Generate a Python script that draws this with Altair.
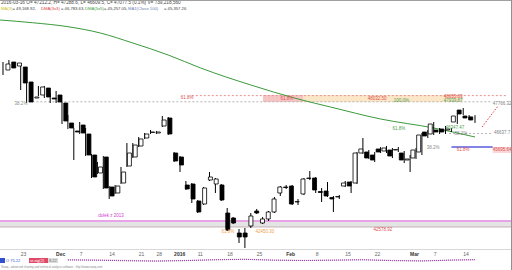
import altair as alt
import pandas as pd

# ---------------- data (WIG daily candles, trading-day index 0 = 2015-11-18) -------------
day_index = list(range(81))
open_ = [49257, 49606, 49431, 49388, 48734, 48036, 48167, 48472, 48036, 48167,
         47818, 46946, 46597, 46859, 46467, 45551, 44766, 45464, 44156, 43894,
         44330, 45071, 45464, 45943, 46292, 46532, 46510, 46815, 47164, 45638,
         45464, 44243, 44287, 43545, 43415, 44461, 44287, 44243, 43022, 42804,
         42150, 42150, 42455, 43109, 42586, 42761, 43066, 43894, 44156, 44199,
         43502, 43851, 44526, 44548, 43960, 43981, 43698, 43720, 44199, 44374,
         44330, 45638, 45682, 45551, 45813, 45725, 45769, 45769, 45638, 45333,
         45420, 45682, 46554, 46467, 46641, 46685, 46641, 46990, 47513, 47251,
         47212]
high = [49606, 49693, 49606, 49431, 48821, 48254, 48559, 48559, 48254, 48341,
        47862, 47295, 46728, 46990, 46728, 45595, 45246, 45507, 44199, 44243,
        45028, 46074, 46074, 46336, 46510, 46641, 46597, 47251, 47208, 45682,
        45507, 44417, 44330, 43589, 44156, 44810, 44548, 44287, 43240, 42848,
        42325, 42368, 43022, 43197, 42848, 43109, 43720, 44199, 44243, 44243,
        43633, 44548, 44853, 44592, 44112, 44374, 43763, 43807, 44417, 44417,
        45682, 46292, 45769, 45682, 45900, 45943, 45856, 45900, 45725, 45551,
        45856, 46510, 46641, 46990, 46728, 46815, 46728, 47339, 47600, 47295,
        47288]
low = [49039, 49301, 49388, 48385, 47818, 47862, 48123, 48036, 47818, 47818,
       46903, 46685, 45333, 46467, 45507, 44548, 44723, 44069, 43633, 43851,
       44287, 45028, 45420, 45900, 46249, 46467, 46467, 46772, 46423, 45246,
       44810, 44025, 43458, 43022, 43371, 44417, 43894, 43545, 42237, 42543,
       41714, 41496, 42368, 42979, 42543, 42673, 43022, 43763, 44069, 43371,
       43371, 43807, 44461, 43894, 43502, 43720, 43066, 43633, 44156, 43894,
       44287, 45595, 45377, 45246, 45638, 45638, 45420, 45682, 45202, 44810,
       45377, 45551, 46292, 46423, 46467, 46467, 46554, 46903, 47295, 47121,
       46950]
close = [49519, 49344, 49562, 48690, 47862, 48080, 48516, 48080, 47993, 47862,
         47033, 46728, 46554, 46510, 45551, 44592, 45028, 44112, 43763, 44199,
         44810, 45638, 45987, 46249, 46467, 46554, 46554, 47077, 46467, 45289,
         45115, 44069, 43633, 43066, 44112, 44592, 44505, 43589, 42281, 42586,
         41976, 41976, 42891, 43022, 42761, 43066, 43633, 44156, 44134, 43415,
         43524, 44505, 44548, 44025, 43916, 43763, 43633, 43741, 44330, 44199,
         45638, 45813, 45420, 45333, 45682, 45856, 45507, 45791, 45333, 45377,
         45769, 46423, 46379, 46903, 46554, 46554, 46685, 47251, 47339, 47164,
         47077]

# 100-session moving average (green), read at several points
ma_index = [-0.5, 5, 11, 16.5, 22, 28, 33.5, 42, 50, 55.5, 64, 73, 80]
ma_value = [51437, 51319, 51145, 50870, 50434, 49911, 49344, 48603, 47993, 47644, 47121, 46728, 46336]

# date axis
tick_index = [3, 9, 13, 18, 23, 26, 29, 33, 38, 43, 48, 53, 58, 63, 69, 73, 78]
tick_label = ["23", "Dec", "7", "14", "21", "28", "2016", "11", "18", "25", "Feb", "8", "15", "22", "Mar", "7", "14"]
tick_bold = [False, True, False, False, False, False, True, False, False, False, True, False, False, False, True, False, False]

# Fibonacci / user annotations
band_i1 = [44.07, 50.85, -0.6, 83.0]
band_i2 = [50.85, 77.97, 86.3, 86.3]
band_p1 = [47862, 47862, 42412, 45638]
band_p2 = [48167, 48167, 42630, 45900]
band_col = ["#f7c4c4", "#fbe6c8", "#e4e4e4", "#fad6d6"]

dash_i1 = [4.3, 32.0, 75.6]
dash_i2 = [83.0, 85.5, 83.0]
dash_p = [47870, 48140, 46490]
dash_col = ["#b4b4b4", "#e49090", "#b4b4b4"]

solid_i1 = [-0.6, -0.6, 76.0]
solid_i2 = [86.3, 86.3, 83.0]
solid_p = [42673, 42412, 45900]
solid_col = ["#d448d4", "#b8a4a4", "#5a5ae0"]
solid_w = [1.2, 0.8, 1.4]

arrow_i = [83.9, 81.2]
arrow_p = [47688, 46772]

ann_text = ["38.2%", "61.8%", "61.8%", "48032.50", "100.0%", "48655.83", "47939.87", "47766.32",
            "61.8%", "46347.47", "38.2%", "46637.7", "38.2%", "61.8%", "45695.64",
            "dołek z 2013", "42578.92", "61.8%", "42450.30"]
ann_i = [3.05, 31.2, 48.1, 63.4, 67.5, 76.3, 76.3, 84.6,
         67.1, 76.6, 77.6, 84.6, 72.9, 78.0, 84.6,
         18.3, 64.4, 38.1, 44.4]
ann_p = [47775, 48036, 47993, 47993, 47927, 48101, 47884, 47775,
         46685, 46728, 46467, 46510, 45856, 45769, 45769,
         42891, 42281, 42194, 42194]
ann_col = ["#7f907f", "#e05050", "#e05050", "#e05050", "#4fa04f", "#e05050", "#4fa04f", "#808080",
           "#4fa04f", "#4fa04f", "#8a8a8a", "#808080", "#8a8a8a", "#e05050", "#e05050",
           "#d040d0", "#e05050", "#f0a050", "#f0a050"]

# oscillator panel
osc_index = [11, 16, 21, 26, 31, 36, 41, 46, 51, 56, 61, 66, 71, 76, 80]
osc_a = [55, 50, 45, 40, 45, 55, 60, 50, 45, 50, 55, 45, 40, 50, 55]
osc_b = [50, 47, 40, 35, 42, 52, 58, 47, 43, 47, 52, 42, 37, 48, 53]

# header
head1 = "2016-03-16 O= 47212.2, H= 47288.6, L= 46609.5, C= 47077.5 (0.1%) V= 739,218,560"
head2_x = [1, 12.5, 41, 61, 85, 104, 128, 164]
head2_t = ["MA(3)", "= 49,168.92,", "DMA(3x3)", "= 46,783.63,", "DMA(5x5)", "= 45,257.05,",
           "MA1(Close 100)", "= 45,357.26"]
head2_c = ["#c8c020", "#404040", "#e04040", "#404040", "#40a040", "#404040", "#6a82b8", "#404040"]
footer = "Stooq - advanced charting and technical analysis software - http://www.stooq.com"

# ---------------- build ----------------
FONT = "Liberation Sans"
XS = alt.Scale(domain=[-0.508, 86.27], nice=False, zero=False)
YS = alt.Scale(domain=[40537, 52309], nice=False, zero=False)


def xq(f):
    return alt.X(f, type="quantitative", scale=XS, axis=None)


def yq(f):
    return alt.Y(f, type="quantitative", scale=YS, axis=None)


candles = pd.DataFrame({"i": day_index, "o": open_, "h": high, "l": low, "c": close})
bands = pd.DataFrame({"i1": band_i1, "i2": band_i2, "p1": band_p1, "p2": band_p2, "col": band_col})
dashes = pd.DataFrame({"i1": dash_i1, "i2": dash_i2, "p": dash_p, "col": dash_col})
solids = pd.DataFrame({"i1": solid_i1, "i2": solid_i2, "p": solid_p, "col": solid_col, "w": solid_w})
ma = pd.DataFrame({"i": ma_index, "v": ma_value})
arrow = pd.DataFrame({"i": arrow_i, "p": arrow_p})
ann = pd.DataFrame({"t": ann_text, "i": ann_i, "p": ann_p, "col": ann_col})
ticks = pd.DataFrame({"i": tick_index, "t": tick_label, "b": tick_bold})
osc = pd.DataFrame({"i": osc_index * 2, "v": osc_a + osc_b,
                    "s": ["a"] * len(osc_index) + ["b"] * len(osc_index)})
head2 = pd.DataFrame({"x": head2_x, "t": head2_t, "col": head2_c})
one = pd.DataFrame({"k": [0]})

layers = []
layers.append(alt.Chart(bands).mark_rect().encode(
    x=xq("i1"), x2=alt.X2("i2"), y=yq("p1"), y2=alt.Y2("p2"), color=alt.Color("col:N", scale=None)))
layers.append(alt.Chart(dashes).mark_rule(strokeDash=[2, 2], strokeWidth=1).encode(
    x=xq("i1"), x2=alt.X2("i2"), y=yq("p"), color=alt.Color("col:N", scale=None)))
layers.append(alt.Chart(solids).mark_rule().encode(
    x=xq("i1"), x2=alt.X2("i2"), y=yq("p"), color=alt.Color("col:N", scale=None),
    strokeWidth=alt.StrokeWidth("w:Q", scale=None)))
layers.append(alt.Chart(arrow).mark_line(color="#e04040", strokeDash=[1.5, 1.5], strokeWidth=1).encode(
    x=xq("i"), y=yq("p")))
layers.append(alt.Chart(ma).mark_line(color="#3a9a3a", strokeWidth=1, interpolate="monotone").encode(
    x=xq("i"), y=yq("v")))
layers.append(alt.Chart(candles).mark_rule(color="#000000", strokeWidth=1).encode(
    x=xq("i"), y=yq("l"), y2=alt.Y2("h")))
layers.append(alt.Chart(candles).mark_bar(size=4, stroke="#000000", strokeWidth=0.8).encode(
    x=xq("i"), y=yq("o"), y2=alt.Y2("c"),
    fill=alt.condition("datum.c > datum.o", alt.value("#ffffff"), alt.value("#000000"))))
layers.append(alt.Chart(ann).mark_text(font=FONT, fontSize=4.5, baseline="middle").encode(
    x=xq("i"), y=yq("p"), text="t:N", color=alt.Color("col:N", scale=None)))

# date axis
layers.append(alt.Chart(one).mark_rule(color="#d8d8d8").encode(
    x=alt.value(0), x2=alt.value(512), y=alt.value(249.5)))
layers.append(alt.Chart(ticks).transform_filter("!datum.b").mark_text(
    font=FONT, fontSize=5, align="left", baseline="middle", color="#666666").encode(
    x=xq("i"), y=alt.value(254), text="t:N"))
layers.append(alt.Chart(ticks).transform_filter("datum.b").mark_text(
    font=FONT, fontSize=5, fontWeight="bold", align="left", baseline="middle", color="#333333").encode(
    x=xq("i"), y=alt.value(254), text="t:N"))

# oscillator panel
OS = alt.Scale(domain=[0, 100], range=[264, 256])
layers.append(alt.Chart(osc).mark_line(strokeWidth=1, strokeDash=[1, 1]).encode(
    x=xq("i"), y=alt.Y("v:Q", scale=OS, axis=None),
    color=alt.Color("s:N", scale=alt.Scale(domain=["a", "b"], range=["#e070c0", "#7a3a9a"]), legend=None)))
legend_df = pd.DataFrame({"x1": [0, 29, 48], "x2": [5, 48, 58], "col": ["#3050d0", "#e04868", "#dddddd"]})
layers.append(alt.Chart(legend_df).mark_rect().encode(
    x=alt.X("x1:Q", scale=None), x2=alt.X2("x2"), y=alt.value(258), y2=alt.value(263),
    color=alt.Color("col:N", scale=None)))
osc_leg = pd.DataFrame({"x": [6, 30, 49], "t": ["O 75.22", "sr.sig(2)", "8.22"],
                        "col": ["#3050d0", "#ffffff", "#777777"]})
layers.append(alt.Chart(osc_leg).mark_text(font=FONT, fontSize=4, align="left", baseline="middle").encode(
    x=alt.X("x:Q", scale=None), y=alt.value(260.5), text="t:N", color=alt.Color("col:N", scale=None)))

# header & footer
layers.append(alt.Chart(one).mark_text(font=FONT, fontSize=4.7, align="left", baseline="middle",
                                       color="#444444", text=head1).encode(
    x=alt.value(1), y=alt.value(3)))
layers.append(alt.Chart(head2).mark_text(font=FONT, fontSize=4.2, align="left", baseline="middle").encode(
    x=alt.X("x:Q", scale=None), y=alt.value(8.5), text="t:N", color=alt.Color("col:N", scale=None)))
layers.append(alt.Chart(one).mark_text(font=FONT, fontSize=2.8, align="left", baseline="middle",
                                       color="#888888", text=footer).encode(
    x=alt.value(1), y=alt.value(267)))

# frame
layers.append(alt.Chart(one).mark_rule(color="#a0a0a0").encode(
    x=alt.value(0), x2=alt.value(512), y=alt.value(0.5)))
layers.append(alt.Chart(one).mark_rule(color="#909090").encode(
    x=alt.value(511.5), y=alt.value(0), y2=alt.value(270)))

chart = alt.layer(*layers).resolve_scale(
    x="independent", y="independent", color="independent"
).properties(
    width=512, height=270, padding=0, autosize=alt.AutoSizeParams(type="none"), background="#ffffff"
).configure_view(stroke=None)

chart.save("out.html", embed_options={"renderer": "svg", "actions": False})
